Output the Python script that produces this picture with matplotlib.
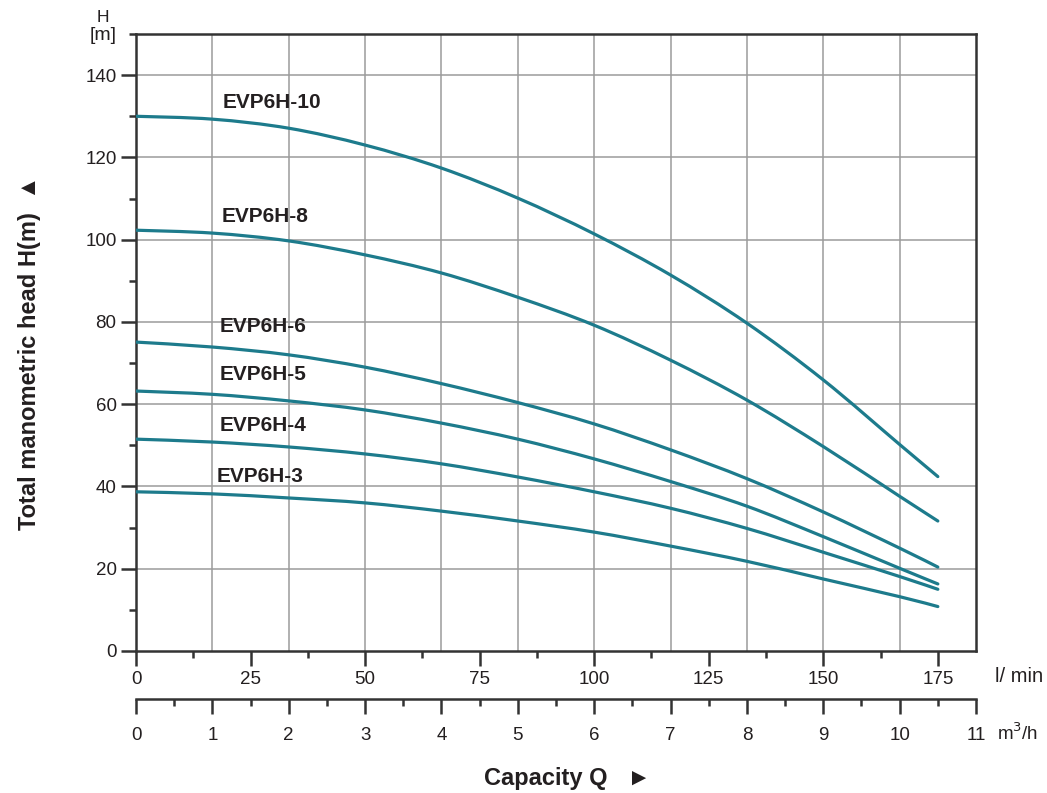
import numpy as np
import matplotlib
matplotlib.use("Agg")
import matplotlib.pyplot as plt
from matplotlib.path import Path
from matplotlib.patches import PathPatch
from matplotlib.ticker import MultipleLocator

plt.rcParams['font.family'] = ['Liberation Sans', 'DejaVu Sans']

# flow in l/min where the head was read
flow = [0, 16.67, 33.33, 50, 66.67, 83.33, 100, 116.67, 133.33, 150, 166.67, 175]

models = ['EVP6H-10', 'EVP6H-8', 'EVP6H-6', 'EVP6H-5', 'EVP6H-4', 'EVP6H-3']
head_10 = [130, 129.3, 127.1, 123, 117.4, 110.1, 101.4, 91.4, 79.7, 65.9, 50.2, 42.4]
head_8 = [102.3, 101.6, 99.7, 96.3, 91.9, 86, 79.2, 70.7, 61, 49.7, 37.6, 31.6]
head_6 = [75.1, 73.9, 72, 69, 65.0, 60.4, 55.2, 48.9, 41.9, 33.8, 25, 20.4]
head_5 = [63.2, 62.4, 60.8, 58.6, 55.4, 51.5, 46.7, 41.2, 35.2, 27.8, 20.1, 16.3]
head_4 = [51.5, 50.8, 49.6, 47.9, 45.5, 42.3, 38.7, 34.7, 29.8, 24.0, 18.1, 15.0]
head_3 = [38.7, 38.2, 37.2, 36, 34, 31.6, 28.9, 25.5, 21.8, 17.5, 13.2, 10.8]
heads = [head_10, head_8, head_6, head_5, head_4, head_3]

# label anchor (l/min, m)
label_x = [18.9, 18.6, 18.3, 18.3, 18.3, 17.6]
label_y = [133.4, 105.7, 78.8, 67.3, 54.7, 42.5]

m3h_ticks = list(range(0, 12))

curve_col = '#1d7b8c'
ink = '#231f20'
grid_col = '#9b9b9b'


def smooth_path(x, y):
    # cubic bezier through the read points (Catmull-Rom style handles)
    p = np.column_stack([x, y]).astype(float)
    verts = [p[0]]
    codes = [Path.MOVETO]
    n = len(p)
    for i in range(n - 1):
        p0 = p[i - 1] if i > 0 else p[i]
        p3 = p[i + 2] if i + 2 < n else p[i + 1]
        c1 = p[i] + (p[i + 1] - p0) / 6
        c2 = p[i + 1] - (p3 - p[i]) / 6
        verts += [c1, c2, p[i + 1]]
        codes += [Path.CURVE4] * 3
    return Path(verts, codes)


fig = plt.figure(figsize=(10.47, 7.93), dpi=100)
ax = fig.add_axes([0.1299, 0.1791, 0.8023, 0.778])

ax.set_xlim(0, 11 / 0.06)
ax.set_ylim(0, 150)

# grid: horizontal every 20 m, vertical at every m3/h
for yv in range(20, 150, 20):
    ax.axhline(yv, color=grid_col, lw=1.1, zorder=1)
ax.vlines(np.array(m3h_ticks[1:-1]) / 0.06, 0, 150, color=grid_col, lw=1.1, zorder=1)

for name, h, lx, ly in zip(models, heads, label_x, label_y):
    ax.add_patch(PathPatch(smooth_path(flow, h), facecolor='none', edgecolor=curve_col,
                           lw=2.3, zorder=3, capstyle='round'))
    ax.text(lx, ly, name, fontsize=15, fontweight='bold', color=ink,
            va='center', ha='left', zorder=4)

for s in ax.spines.values():
    s.set_linewidth(1.8)
    s.set_color('#333333')

ax.set_xticks([0, 25, 50, 75, 100, 125, 150, 175])
ax.xaxis.set_minor_locator(MultipleLocator(12.5))
ax.set_yticks(range(0, 150, 20))
ax.yaxis.set_minor_locator(MultipleLocator(10))
ax.tick_params(axis='both', which='major', length=11, width=1.8, color='#333333',
               labelsize=13.5, labelcolor=ink)
ax.tick_params(axis='y', which='major', pad=3)
ax.tick_params(axis='x', which='major', pad=3.5)
ax.tick_params(axis='both', which='minor', length=5, width=1.8, color='#333333')

# second scale in m3/h
sec = ax.secondary_xaxis(-0.078, functions=(lambda q: q * 0.06, lambda q: q / 0.06))
sec.set_xticks(m3h_ticks)
sec.xaxis.set_minor_locator(MultipleLocator(0.5))
sec.spines['bottom'].set_linewidth(1.8)
sec.spines['bottom'].set_color('#333333')
sec.tick_params(axis='x', which='major', length=11, width=1.8, color='#333333',
                labelsize=13.5, labelcolor=ink, pad=9)
sec.tick_params(axis='x', which='minor', length=5, width=1.8, color='#333333')

fig.text(995 / 1047, 1 - 676 / 793, 'l/ min', fontsize=14.5, color=ink, va='center', ha='left')
fig.text(997 / 1047, 1 - 733 / 793, 'm$^3$/h', fontsize=13.5, color=ink, va='center', ha='left')
fig.text(103 / 1047, 1 - 17 / 793, 'H', fontsize=12.5, color=ink, va='center', ha='center')
fig.text(103 / 1047, 1 - 36 / 793, '[m]', fontsize=14, color=ink, va='center', ha='center')

fig.text(30 / 1047, 1 - 353 / 793, 'Total manometric head H(m)  \u25B2', fontsize=17,
         fontweight='bold', color=ink, rotation=90, va='center', ha='center')
fig.text(567 / 1047, 1 - 778 / 793, 'Capacity Q   \u25BA', fontsize=17,
         fontweight='bold', color=ink, va='center', ha='center')

fig.savefig('out.png', dpi=100)
